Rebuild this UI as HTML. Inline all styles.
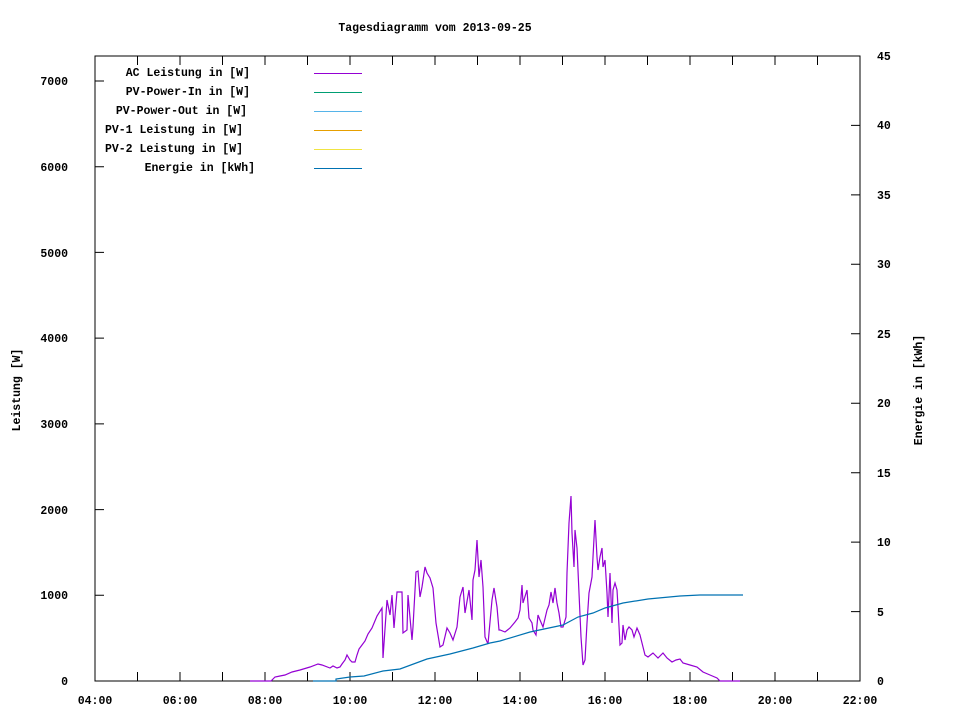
<!DOCTYPE html>
<html><head><meta charset="utf-8"><style>body{margin:0;background:#fff}</style></head><body>
<svg width="960" height="720" xmlns="http://www.w3.org/2000/svg" font-family="Liberation Mono, monospace" font-size="11.5" font-weight="bold" fill="#000">
<rect width="960" height="720" fill="#fff"/>
<text x="435" y="31" text-anchor="middle">Tagesdiagramm vom 2013-09-25</text>
<rect x="95" y="56" width="765" height="625" fill="none" stroke="#000"/>
<g stroke="#000">
<path d="M95 681h9M95 595.3h9M95 509.6h9M95 423.9h9M95 338.1h9M95 252.4h9M95 166.7h9M95 81h9"/>
<path d="M860 681h-9M860 611.6h-9M860 542.1h-9M860 472.7h-9M860 403.2h-9M860 333.8h-9M860 264.3h-9M860 194.9h-9M860 125.4h-9M860 56h-9"/>
<path d="M137.5 681v-9M180 681v-9M222.5 681v-9M265 681v-9M307.5 681v-9M350 681v-9M392.5 681v-9M435 681v-9M477.5 681v-9M520 681v-9M562.5 681v-9M605 681v-9M647.5 681v-9M690 681v-9M732.5 681v-9M775 681v-9M817.5 681v-9"/>
<path d="M137.5 56v9M180 56v9M222.5 56v9M265 56v9M307.5 56v9M350 56v9M392.5 56v9M435 56v9M477.5 56v9M520 56v9M562.5 56v9M605 56v9M647.5 56v9M690 56v9M732.5 56v9M775 56v9M817.5 56v9"/>
</g>
<g text-anchor="end">
<text x="68" y="685">0</text><text x="68" y="599">1000</text><text x="68" y="514">2000</text><text x="68" y="428">3000</text><text x="68" y="342">4000</text><text x="68" y="257">5000</text><text x="68" y="171">6000</text><text x="68" y="85">7000</text>
</g>
<g>
<text x="877" y="685">0</text><text x="877" y="616">5</text><text x="877" y="546">10</text><text x="877" y="477">15</text><text x="877" y="407">20</text><text x="877" y="338">25</text><text x="877" y="268">30</text><text x="877" y="199">35</text><text x="877" y="129">40</text><text x="877" y="60">45</text>
</g>
<g text-anchor="middle">
<text x="95" y="704">04:00</text><text x="180" y="704">06:00</text><text x="265" y="704">08:00</text><text x="350" y="704">10:00</text><text x="435" y="704">12:00</text><text x="520" y="704">14:00</text><text x="605" y="704">16:00</text><text x="690" y="704">18:00</text><text x="775" y="704">20:00</text><text x="860" y="704">22:00</text>
</g>
<text transform="translate(20,390) rotate(-90)" text-anchor="middle">Leistung [W]</text>
<text transform="translate(922,390) rotate(-90)" text-anchor="middle">Energie in [kWh]</text>
<g text-anchor="end">
<text x="250" y="76">AC Leistung in [W]</text>
<text x="250" y="95">PV-Power-In in [W]</text>
<text x="247" y="114">PV-Power-Out in [W]</text>
<text x="243" y="133">PV-1 Leistung in [W]</text>
<text x="243" y="152">PV-2 Leistung in [W]</text>
<text x="255" y="171">Energie in [kWh]</text>
</g>
<g stroke-width="1">
<path d="M314 73.5h48" stroke="#9400d3"/>
<path d="M314 92.5h48" stroke="#009e73"/>
<path d="M314 111.5h48" stroke="#56b4e9"/>
<path d="M314 130.5h48" stroke="#e69f00"/>
<path d="M314 149.5h48" stroke="#f0e442"/>
<path d="M314 168.5h48" stroke="#0072b2"/>
</g>
<polyline fill="none" stroke="#9400d3" stroke-width="1.2" points="250,681 271,681 275,677 280,676 285,675 292,672 300,670 310,667 318,664 322,665 330,668 333,666 337,668 340,667 342,664 345,660 347,655 350,660 352,662 355,662 357,655 359,649 362,645 365,641 368,634 372,628 377,616 382,608 383,658 387,600 390,615 392,595 394,628 397,592 400,592 402,592 403,633 407,630 408,595 412,640 413,627 416,572 418,571 420,597 422,587 425,567 427,573 430,578 433,588 436,623 440,647 443,645 447,628 450,633 453,640 457,627 460,597 463,587 465,613 469,590 472,620 473,580 475,570 477,540 479,577 481,560 483,587 485,637 488,644 492,600 494,588 497,607 499,630 500,630 505,632 510,628 515,622 518,618 520,610 522,585 523,603 527,590 529,618 532,623 533,630 536,635 538,615 540,620 543,627 547,610 549,605 551,592 553,603 555,588 557,603 559,613 561,627 563,627 566,617 567,573 569,523 571,496 572,533 574,567 575,530 577,548 579,593 581,637 583,665 585,660 587,623 589,593 592,577 593,557 595,520 597,557 598,570 600,557 602,548 603,567 605,560 607,593 608,617 610,573 612,623 613,590 615,583 617,590 618,607 620,645 622,643 623,625 625,640 627,630 629,627 632,630 634,637 637,628 640,635 643,647 645,655 648,657 653,653 658,658 663,653 667,658 672,662 676,660 680,659 683,663 690,665 697,667 703,672 710,675 717,678 720,681 740,681"/>
<polyline fill="none" stroke="#0072b2" stroke-width="1.2" points="313,681 336,681 336,679 350,677 364,676 383,671 400,669 427,659 450,654 473,648 490,643 500,641 530,632 563,625 578,617 593,613 605,608 623,603 648,599 680,596 700,595 743,595"/>
</svg>
</body></html>
